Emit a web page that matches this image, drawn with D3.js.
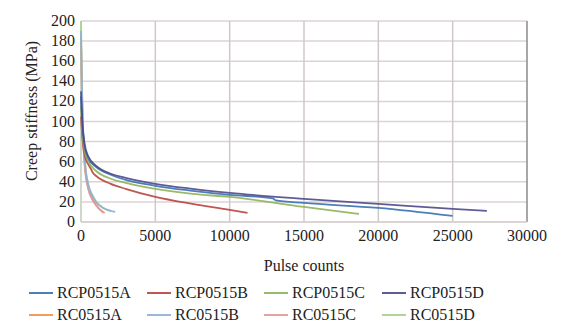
<!DOCTYPE html>
<html>
<head>
<meta charset="utf-8">
<script src="https://cdn.jsdelivr.net/npm/d3@7"></script>
<style>
  body { margin: 0; background: #fff; }
  text { font-family: "Times New Roman", "Liberation Serif", "DejaVu Serif", serif; fill: #222; }
</style>
</head>
<body>
<div class="chart"></div>
<script>
var seriesNames = ["RCP0515A", "RCP0515B", "RCP0515C", "RCP0515D", "RC0515A", "RC0515B", "RC0515C", "RC0515D"];
var seriesColors = ["#3a70b2", "#b9423f", "#8fb35a", "#4c4a8c", "#f0924a", "#8eaedc", "#e29a9a", "#a9d18e"];

// pulse counts / creep stiffness (MPa)
var rcpA_x = [0, 100, 250, 500, 1000, 2000, 3000, 5000, 7500, 10000, 12900, 13100, 15000, 20000, 25000];
var rcpA_y = [125, 95, 75, 63, 55, 47, 42, 36, 31, 27, 23.5, 21.5, 19, 14, 6];
var rcpB_x = [0, 100, 250, 500, 700, 800, 1000, 2000, 3000, 5000, 7500, 10000, 11200];
var rcpB_y = [105, 82, 66, 57, 52, 49, 46, 38, 33, 25, 18, 12, 9];
var rcpC_x = [0, 100, 250, 500, 1000, 2000, 3000, 5000, 7500, 10000, 15000, 18700];
var rcpC_y = [115, 88, 70, 60, 51, 43, 39, 33, 28, 25, 15, 8];
var rcpD_x = [0, 100, 250, 500, 1000, 2000, 3000, 5000, 7500, 10000, 15000, 20000, 25000, 27300];
var rcpD_y = [130, 98, 77, 65, 56, 48, 44, 38, 33, 29, 23, 18, 13, 11];
var rcA_x = [0, 50, 100, 200, 300, 500, 800, 1000, 1300, 1500];
var rcA_y = [185, 140, 105, 68, 50, 33, 22, 17, 12, 9];
var rcB_x = [0, 50, 100, 200, 300, 500, 800, 1000, 1500, 2000, 2300];
var rcB_y = [190, 145, 110, 72, 53, 36, 25, 20, 14, 11, 10];
var rcC_x = [0, 50, 100, 200, 300, 500, 800, 1000, 1300, 1600];
var rcC_y = [180, 138, 102, 66, 48, 32, 21, 17, 12, 9];
var rcD_x = [0, 50, 100, 200, 300, 500, 800, 1000, 1500, 2000];
var rcD_y = [200, 150, 112, 74, 55, 37, 26, 21, 14, 11];

var xTicks = [0, 5000, 10000, 15000, 20000, 25000, 30000];
var yTicks = [0, 20, 40, 60, 80, 100, 120, 140, 160, 180, 200];

var allX = [rcpA_x, rcpB_x, rcpC_x, rcpD_x, rcA_x, rcB_x, rcC_x, rcD_x];
var allY = [rcpA_y, rcpB_y, rcpC_y, rcpD_y, rcA_y, rcB_y, rcC_y, rcD_y];

var margin = {left: 81, right: 37, top: 21, bottom: 110};
var width = 564, height = 332;
var serif = "'Times New Roman', 'Liberation Serif', 'DejaVu Serif', serif";

var svg = d3.select("body div.chart").append("svg").attr("width", width).attr("height", height);

var x = d3.scaleLinear().domain([0, 30000]).range([margin.left, width - margin.right]);
var y = d3.scaleLinear().domain([0, 200]).range([height - margin.bottom, margin.top]);

// grid
svg.append("g").selectAll("line.h")
    .data(yTicks).enter().append("line")
    .attr("x1", x(0)).attr("x2", x(30000))
    .attr("y1", function(d) { return y(d); }).attr("y2", function(d) { return y(d); })
    .attr("stroke", "#dcd3d3").attr("stroke-width", 1.5);
svg.append("g").selectAll("line.v")
    .data(xTicks.slice(1)).enter().append("line")
    .attr("x1", function(d) { return x(d); }).attr("x2", function(d) { return x(d); })
    .attr("y1", y(0)).attr("y2", y(200))
    .attr("stroke", function(d) { return d === 30000 ? "#8a8a8a" : "#d2c8c8"; })
    .attr("stroke-width", 1.5);

// axes lines
svg.append("line").attr("x1", x(0)).attr("x2", x(0)).attr("y1", y(0)).attr("y2", y(200))
    .attr("stroke", "#cfd8c8").attr("stroke-width", 2);
svg.append("line").attr("x1", x(0)).attr("x2", x(30000)).attr("y1", y(0)).attr("y2", y(0))
    .attr("stroke", "#d6d0d0").attr("stroke-width", 1.5);

// tick labels
svg.append("g").selectAll("text")
    .data(yTicks).enter().append("text")
    .attr("x", x(0) - 6).attr("y", function(d) { return y(d) + 5; })
    .attr("text-anchor", "end").attr("font-size", 16).style("font-family", serif)
    .text(function(d) { return d; });
svg.append("g").selectAll("text")
    .data(xTicks).enter().append("text")
    .attr("x", function(d) { return x(d); }).attr("y", y(0) + 19)
    .attr("text-anchor", "middle").attr("font-size", 16).style("font-family", serif)
    .text(function(d) { return d; });

svg.append("text").attr("x", 304).attr("y", 271).attr("text-anchor", "middle")
    .attr("font-size", 16).style("font-family", serif).text("Pulse counts");
svg.append("text").attr("transform", "translate(37,111) rotate(-90)")
    .attr("text-anchor", "middle").attr("font-size", 16).style("font-family", serif)
    .text("Creep stiffness (MPa)");

var line = d3.line()
    .x(function(d) { return x(d[0]); })
    .y(function(d) { return y(d[1]); })
    .curve(d3.curveMonotoneX);

var drawOrder = [4, 6, 7, 5, 1, 2, 0, 3];
drawOrder.forEach(function(i) {
    var pts = allX[i].map(function(v, j) { return [v, allY[i][j]]; });
    svg.append("path")
        .attr("d", line(pts))
        .attr("fill", "none")
        .attr("stroke", seriesColors[i])
        .attr("stroke-width", 1.8)
        .attr("stroke-opacity", 0.9);
});

// legend
var legX = [29, 147, 264, 382];
var legY = [293, 315];
var leg = svg.append("g").selectAll("g")
    .data(seriesNames).enter().append("g")
    .attr("transform", function(d, i) { return "translate(" + legX[i % 4] + "," + legY[Math.floor(i / 4)] + ")"; });
leg.append("line").attr("x1", 0).attr("x2", 24).attr("y1", 0).attr("y2", 0)
    .attr("stroke", function(d, i) { return seriesColors[i]; }).attr("stroke-width", 1.8);
leg.append("text").attr("x", 28).attr("y", 5).attr("font-size", 16).style("font-family", serif)
    .text(function(d) { return d; });
</script>
</body>
</html>
